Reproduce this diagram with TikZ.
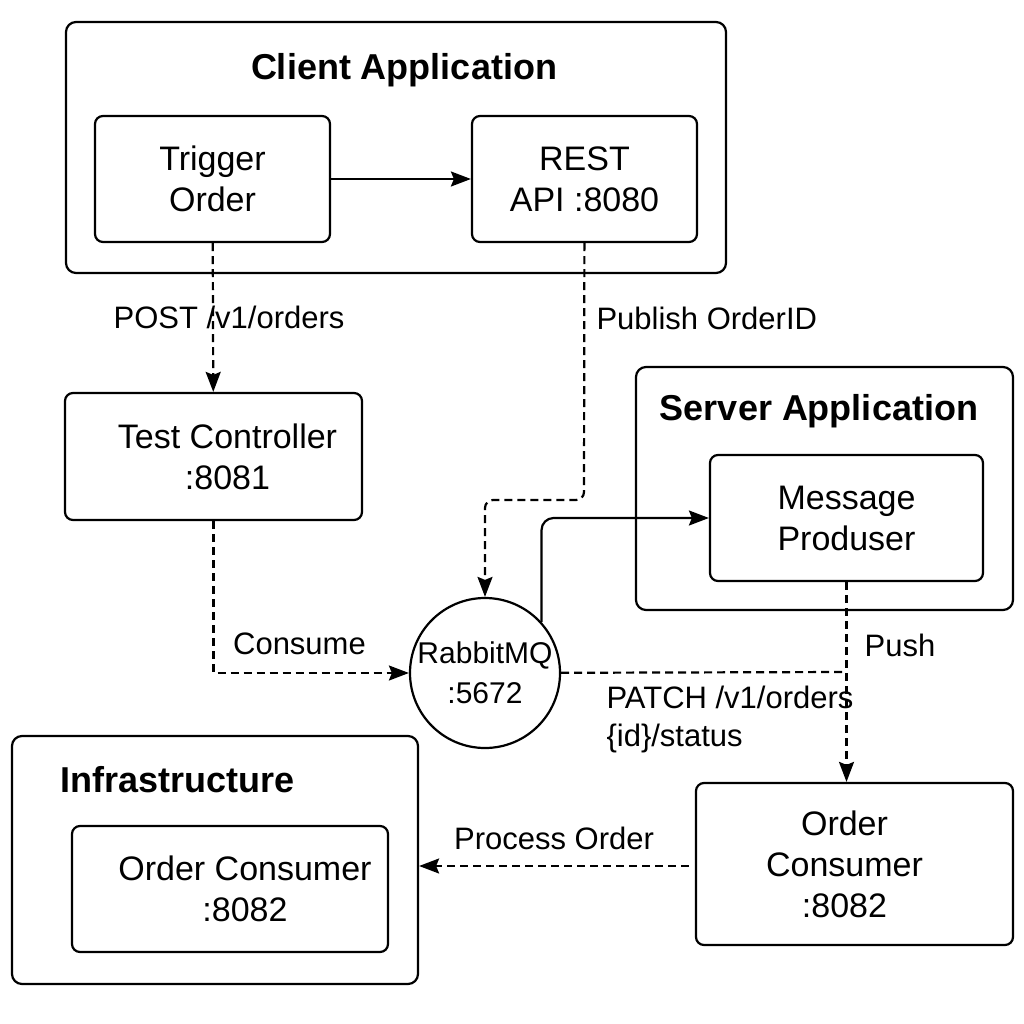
\documentclass[tikz,border=0pt]{standalone}
\usepackage{fontspec}
\setmainfont{Liberation Sans}
\usetikzlibrary{arrows.meta}
\begin{document}
\begin{tikzpicture}[
    x=1pt, y=-1pt,
    group/.style={rectangle, draw, line width=2.2pt, rounded corners=10pt, inner sep=0pt},
    box/.style={rectangle, draw, line width=2.2pt, rounded corners=8pt, align=center, inner sep=0pt, font=\fontsize{34}{41}\selectfont},
    queue/.style={circle, draw, line width=2.2pt, minimum size=150pt, inner sep=0pt, align=center, font=\fontsize{30}{40}\selectfont},
    title/.style={font=\fontsize{36}{40}\selectfont\bfseries},
    label/.style={font=\fontsize{31}{38}\selectfont, align=left},
    flow/.style={-{Stealth[length=20pt, width=15pt, inset=3pt]}, line width=2.2pt},
    dflow/.style={flow, dash pattern=on 8pt off 5pt},
    dline/.style={line width=2.2pt, dash pattern=on 8pt off 5pt}
]
\useasboundingbox[fill=white] (0,0) rectangle (1024,1024);

% Groups
\node[group, minimum width=660pt, minimum height=251pt] (client) at (396,147.5) {};
\node[title] (clienttitle) at (404,70) {Client Application};
\node[group, minimum width=377pt, minimum height=243pt] (server) at (824.5,488.5) {};
\node[title] (servertitle) at (819,411) {Server Application};
\node[group, minimum width=406pt, minimum height=248pt] (infra) at (215,860) {};
\node[title, anchor=west] (infratitle) at (57,780) {Infrastructure};

% Services
\node[box, minimum width=235pt, minimum height=126pt] (trigger) at (212.5,179) {Trigger\\Order};
\node[box, minimum width=225pt, minimum height=126pt] (rest) at (584.5,179) {REST\\API :8080};
\node[box, minimum width=297pt, minimum height=127pt] (testctl) at (213.5,456.5) {\hspace*{28pt}Test Controller\\\hspace*{28pt}:8081};
\node[box, minimum width=273pt, minimum height=126pt] (producer) at (846.5,518) {Message\\Produser};
\node[queue] (rabbit) at (485,673) {RabbitMQ\\:5672};
\node[box, minimum width=317pt, minimum height=162pt] (consumer) at (854.5,864) {\hspace*{-20pt}Order\\\hspace*{-20pt}Consumer\\\hspace*{-20pt}:8082};
\node[box, minimum width=316pt, minimum height=126pt] (infraconsumer) at (230,889) {\hspace*{30pt}Order Consumer\\\hspace*{30pt}:8082};

% Turning points
\coordinate (pubturn) at (584,500);
\coordinate (pushjoin) at (846.5,672);

% Connectors
\draw[flow] (trigger) -- (rest);
\draw[dflow] (trigger) -- node[label, pos=0.5, xshift=16pt] {POST /v1/orders} (testctl);
\draw[dflow, rounded corners=8pt] (rest) -- (pubturn) -| (rabbit);
\node[label, anchor=west] (publabel) at (593,318) {Publish OrderID};
\draw[flow, rounded corners=12pt] (rabbit.42) |- (producer);
\draw[dflow] (testctl) |- node[label, pos=0.72, above=14pt] {Consume} (rabbit);
\draw[dline] (rabbit) -- (pushjoin);
\draw[dflow] (producer) -- (producer |- consumer.north);
\node[label] (pushlabel) at (900,645) {Push};
\node[label, anchor=west] (patchlabel) at (603,719) {PATCH /v1/orders\\\{id\}/status};
\draw[dflow] (consumer.west) ++(-6,2) -- (infra.east |- 0,866) node[label, pos=0.5, above=12pt] {Process Order};

\end{tikzpicture}
\end{document}
